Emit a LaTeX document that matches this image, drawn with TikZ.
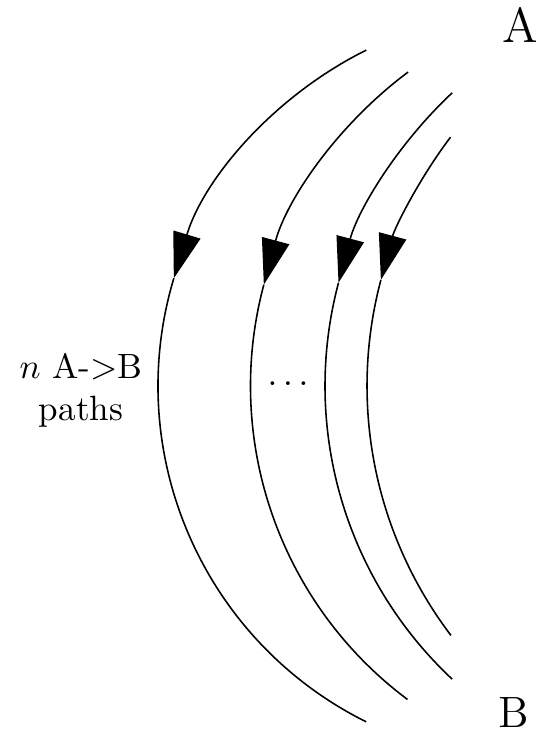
\documentclass[tikz,border=0pt]{standalone}
\usetikzlibrary{arrows.meta}
\begin{document}
\begin{tikzpicture}[x=0.285pt,y=0.285pt,
  path/.style={line width=0.45pt},
  tipped/.style={path,-{Triangle[length=13pt,width=8pt]}},
  lbl/.style={inner sep=0pt}]
\useasboundingbox (0,0) rectangle (535,734);
% curve 1
\draw[tipped] (533,348) ++(116.4:375) arc[start angle=116.4, end angle=163.3, radius=375];
\draw[path]   (533,348) ++(163.3:375) arc[start angle=163.3, end angle=243.6, radius=375];
% curve 2
\draw[tipped] (642,348) ++(126.7:391.5) arc[start angle=126.7, end angle=165, radius=391.5];
\draw[path]   (642,348) ++(165:391.5) arc[start angle=165, end angle=233.2, radius=391.5];
% curve 3
\draw[tipped] (726.5,348) ++(133.1:401.5) arc[start angle=133.1, end angle=165.1, radius=401.5];
\draw[path]   (726.5,348) ++(165.1:401.5) arc[start angle=165.1, end angle=226.9, radius=401.5];
% curve 4
\draw[tipped] (779.5,348) ++(142.9:412.5) arc[start angle=142.9, end angle=165.1, radius=412.5];
\draw[path]   (779.5,348) ++(165.1:412.5) arc[start angle=165.1, end angle=217.2, radius=412.5];
% labels
\node[lbl] (A) at (521,709) {\fontsize{14}{16}\selectfont A};
\node[lbl] (B) at (513.5,21) {\fontsize{12.5}{14}\selectfont B};
\node[lbl,align=center] (lab) at (81,344) {$n$ A->B\\paths};
\node[lbl] (dots) at (288,350) {$\ldots$};
\end{tikzpicture}
\end{document}
